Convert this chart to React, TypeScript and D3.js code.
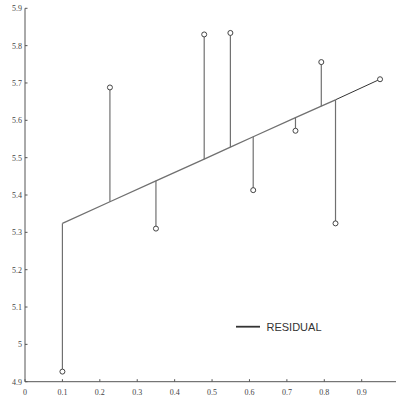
import React from "react";
import * as d3 from "d3";

const xValues = [0.1, 0.227, 0.35, 0.479, 0.549, 0.61, 0.723, 0.792, 0.83, 0.949];
const yValues = [4.927, 5.688, 5.31, 5.83, 5.834, 5.413, 5.572, 5.756, 5.324, 5.71];
const fittedValues = [5.324, 5.382, 5.438, 5.496, 5.528, 5.556, 5.607, 5.638, 5.655, 5.71];
const xTicks = [0, 0.1, 0.2, 0.3, 0.4, 0.5, 0.6, 0.7, 0.8, 0.9];
const xTickLabels = ["0", "0.1", "0.2", "0.3", "0.4", "0.5", "0.6", "0.7", "0.8", "0.9"];
const yTicks = [4.9, 5, 5.1, 5.2, 5.3, 5.4, 5.5, 5.6, 5.7, 5.8, 5.9];
const yTickLabels = ["4.9", "5", "5.1", "5.2", "5.3", "5.4", "5.5", "5.6", "5.7", "5.8", "5.9"];
const legendLabel = "RESIDUAL";

export default function App() {
  const W = 396, H = 401;
  const x = d3.scaleLinear().domain([0, 0.9]).range([25, 361.7]);
  const y = d3.scaleLinear().domain([4.9, 5.9]).range([381.7, 8.3]);
  const line = d3.line<number>().x((_, i) => x(xValues[i])).y((d) => y(d));
  const axisColor = "#555";
  const markColor = "#707070";
  const lastSeg = fittedValues.slice(-2);
  const lastLine = d3.line<number>().x((_, i) => x(xValues[xValues.length - 2 + i])).y((d) => y(d));
  return (
    <svg width={W} height={H} style={{ position: "absolute", left: 0, top: 0, background: "#fff" }}>
      {/* axes */}
      <line x1={x(0)} x2={W} y1={y(4.9)} y2={y(4.9)} stroke={axisColor} strokeWidth={1} />
      <line x1={x(0)} x2={x(0)} y1={y(5.9)} y2={y(4.9)} stroke={axisColor} strokeWidth={1} />
      {xTicks.map((t, i) => (
        <g key={"xt" + i}>
          <line x1={x(t)} x2={x(t)} y1={y(4.9)} y2={y(4.9) - 2.5} stroke={axisColor} />
          <text x={x(t)} y={395} fontSize={8} fontFamily="Liberation Serif, serif" textAnchor="middle" fill="#444">
            {xTickLabels[i]}
          </text>
        </g>
      ))}
      {yTicks.map((t, i) => (
        <g key={"yt" + i}>
          <line x1={x(0)} x2={x(0) + 2.5} y1={y(t)} y2={y(t)} stroke={axisColor} />
          <text x={22} y={y(t) + 3} fontSize={8} fontFamily="Liberation Serif, serif" textAnchor="end" fill="#444">
            {yTickLabels[i]}
          </text>
        </g>
      ))}
      {/* fitted line */}
      <path d={line(fittedValues.slice(0, -1)) || ""} fill="none" stroke={markColor} strokeWidth={1.3} />
      <path d={lastLine(lastSeg) || ""} fill="none" stroke="#333" strokeWidth={1} />
      {/* residual stems */}
      {xValues.map((xv, i) => (
        <line key={"s" + i} x1={x(xv)} x2={x(xv)} y1={y(yValues[i])} y2={y(fittedValues[i])} stroke={markColor} strokeWidth={1.2} />
      ))}
      {/* points */}
      {xValues.map((xv, i) => (
        <circle key={"p" + i} cx={x(xv)} cy={y(yValues[i])} r={2.5} fill="#fff" stroke="#444" strokeWidth={1} />
      ))}
      {/* legend */}
      <line x1={236} x2={260} y1={326.7} y2={326.7} stroke="#333" strokeWidth={1.8} />
      <text x={266.5} y={330.5} fontSize={11} fontFamily="Liberation Sans, Arial, sans-serif" fill="#333">
        {legendLabel}
      </text>
    </svg>
  );
}
